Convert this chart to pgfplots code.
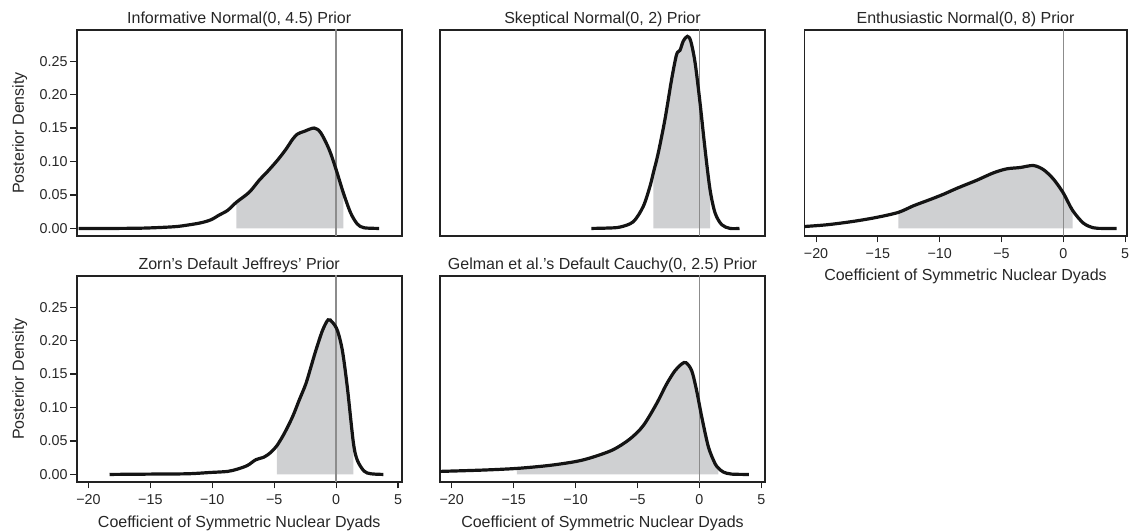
\documentclass[border=0pt]{standalone}
\usepackage{pgfplots}
\pgfplotsset{compat=1.18}
\usepackage{fontspec}
\setmainfont{Liberation Sans}
\definecolor{shadegray}{HTML}{CFD0D2}
\definecolor{zeroline}{HTML}{8C8C8C}
\definecolor{framecol}{HTML}{222222}

\pgfplotstableread{
x y
-20.8 0
-18 0
-15.5 0.0005
-13.1 0.0025
-12.0 0.005
-10.9 0.0085
-10.1 0.013
-9.44 0.020
-8.76 0.027
-8.06 0.039
-7.02 0.054
-6.21 0.072
-5.54 0.085
-4.73 0.102
-4.06 0.118
-3.52 0.133
-3.12 0.141
-2.58 0.145
-1.77 0.150
-1.24 0.143
-0.56 0.118
0 0.088
0.59 0.053
1.18 0.023
1.72 0.0065
2.26 0.001
3.47 0
}\tinf

\pgfplotstableread{
x y
-8.72 0
-7.5 0.0005
-6.42 0.002
-5.34 0.010
-4.53 0.033
-3.99 0.063
-3.72 0.083
-3.32 0.113
-2.78 0.163
-2.24 0.223
-1.84 0.260
-1.57 0.266
-1.30 0.280
-0.97 0.287
-0.70 0.280
-0.35 0.248
0.05 0.188
0.46 0.118
0.86 0.058
1.27 0.023
1.81 0.0055
2.48 0
3.24 0
}\tske

\pgfplotstableread{
x y
-21.0 0.0028
-19.1 0.0055
-17.0 0.0105
-15.1 0.0165
-13.34 0.024
-12.1 0.034
-10.8 0.043
-9.7 0.051
-8.6 0.060
-7.0 0.072
-5.66 0.083
-4.58 0.089
-3.50 0.091
-2.43 0.094
-1.62 0.088
-0.81 0.074
0 0.053
0.75 0.027
1.62 0.008
2.43 0.001
3.2 0
4.31 0
}\tent

\pgfplotstableread{
x y
-18.3 0
-14.95 0.0005
-12.0 0.001
-10.1 0.003
-8.76 0.0045
-7.96 0.008
-7.15 0.0135
-6.48 0.022
-5.81 0.026
-5.27 0.033
-4.78 0.043
-4.19 0.061
-3.52 0.086
-2.98 0.111
-2.45 0.135
-2.04 0.160
-1.64 0.185
-1.10 0.215
-0.645 0.231
-0.30 0.2275
0.11 0.215
0.51 0.185
0.91 0.130
1.40 0.047
1.72 0.021
2.26 0.005
2.80 0.001
3.82 0
}\tzor

\pgfplotstableread{
x y
-21.0 0.0045
-17.5 0.0065
-14.74 0.009
-12.1 0.0135
-9.93 0.0195
-8.58 0.026
-6.96 0.037
-5.61 0.053
-4.53 0.073
-3.45 0.106
-2.65 0.135
-1.97 0.155
-1.43 0.165
-1.08 0.167
-0.62 0.155
-0.22 0.125
0.19 0.086
0.73 0.041
1.27 0.016
1.54 0.0095
1.94 0.0035
2.6 0.0005
4.0 0
}\tgel

\pgfplotsset{
  panel/.style={
    scale only axis, width=325pt, height=206pt, anchor=south west,
    xmin=-20.95, xmax=5.3, ymin=-0.0113, ymax=0.2965,
    axis line style={line width=1.6pt, framecol},
    tick align=outside, major tick length=6.5pt,
    tick style={line width=1.1pt, framecol},
    xtick pos=bottom, ytick pos=left,
    xtick=\empty, ytick=\empty,
    title style={font=\fontsize{16}{19}\selectfont, at={(axis description cs:0.5,1)}, anchor=base, yshift=0pt, inner sep=0pt, text=black!85},
    tick label style={font=\fontsize{14.3}{17}\selectfont, text=black!85},
    label style={font=\fontsize{16}{19}\selectfont, text=black!85},
    clip=true,
  },
  xt/.style={
    xtick={-20,-15,-10,-5,0,5}, xticklabels={−20,−15,−10,−5,0,5},
    xlabel={Coefficient of Symmetric Nuclear Dyads},
    xlabel style={at={(axis description cs:0.5,0)}, anchor=base, yshift=-45pt, inner sep=0pt},
    xticklabel style={anchor=base, yshift=-16pt},
  },
  yt/.style={
    ytick={0,0.05,0.10,0.15,0.20,0.25}, yticklabels={0.00,0.05,0.10,0.15,0.20,0.25},
    yticklabel style={inner xsep=2.5pt},
    ylabel={Posterior Density},
    ylabel style={at={([xshift=-52.7pt]axis description cs:0,0.5)}, anchor=base, inner sep=0pt},
  },
  curve/.style={line width=3.2pt, black!92, smooth, tension=0.5},
}

\newcommand{\panelbody}[3]{%
  \addplot[fill=shadegray, draw=none, smooth, tension=0.5, restrict x to domain=#2:#3] table {#1} \closedcycle;
  \addplot[zeroline, line width=1.3pt] coordinates {(0,-0.02) (0,0.31)};
  \addplot[curve] table {#1};
}

\begin{document}
\begin{tikzpicture}
\useasboundingbox (0pt,0pt) rectangle (1129pt,532pt);

\begin{axis}[panel, yt, at={(76.7pt,296pt)}, title={Informative Normal(0, 4.5) Prior}]
\panelbody{\tinf}{-8.07}{0.60}
\end{axis}

\begin{axis}[panel, at={(440pt,296pt)}, title={Skeptical Normal(0, 2) Prior}]
\panelbody{\tske}{-3.73}{0.87}
\end{axis}

\begin{axis}[panel, xt, at={(804.3pt,296pt)}, width=322.4pt, xmax=5.13, title={Enthusiastic Normal(0, 8) Prior}]
\panelbody{\tent}{-13.35}{0.76}
\end{axis}

\begin{axis}[panel, xt, yt, at={(76.7pt,50pt)}, title={Zorn's Default Jeffreys' Prior}]
\panelbody{\tzor}{-4.79}{1.41}
\end{axis}

\begin{axis}[panel, xt, at={(440pt,50pt)}, title={Gelman et al.'s Default Cauchy(0, 2.5) Prior}]
\panelbody{\tgel}{-14.75}{1.55}
\end{axis}

\end{tikzpicture}
\end{document}
